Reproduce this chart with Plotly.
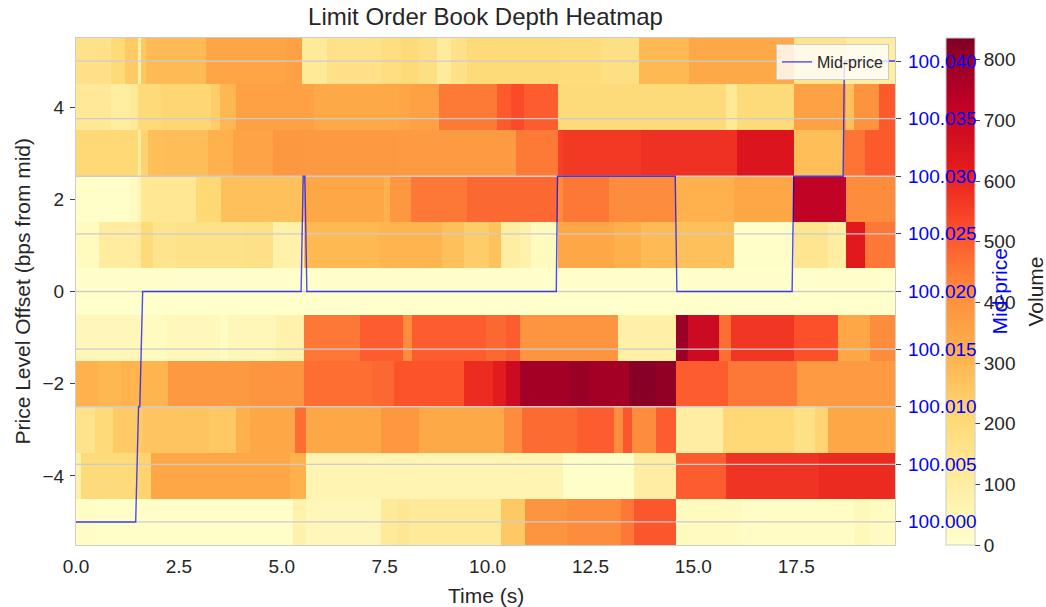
import plotly.graph_objects as go

# ---------------- data ----------------
levels = [-5, -4, -3, -2, -1, 0, 1, 2, 3, 4, 5]
t_start = 0.0
t_end = 19.9

# per price level: (segment start time [s], volume)
row_m5 = [(0.0, 15), (0.49, 8), (5.27, 75), (5.60, 45), (7.40, 120), (7.79, 140), (8.10, 120),
          (10.32, 255), (10.92, 395), (11.94, 420), (13.24, 455), (13.56, 510), (14.57, 30),
          (16.15, 15), (18.9, 40), (19.3, 25)]
row_m4 = [(0.0, 80), (0.12, 200), (1.54, 225), (1.82, 345), (5.19, 315), (5.60, 65),
          (11.83, 10), (13.56, 100), (14.57, 500), (15.79, 575), (18.06, 595)]
row_m3 = [(0.0, 155), (0.45, 205), (0.89, 250), (1.62, 265), (3.24, 255), (3.89, 315),
          (4.22, 345), (5.31, 470), (5.60, 345), (7.42, 390), (8.33, 340), (10.40, 420),
          (10.84, 475), (12.18, 500), (13.08, 420), (13.28, 510), (13.52, 420), (14.09, 500),
          (14.57, 100), (15.71, 210), (17.45, 170), (17.95, 220), (18.27, 345)]
row_m2 = [(0.0, 315), (0.57, 300), (1.10, 315), (1.30, 305), (2.23, 385), (4.22, 395),
          (5.53, 470), (7.19, 480), (7.72, 515), (9.42, 590), (10.14, 625), (10.44, 690),
          (10.78, 775), (12.0, 795), (12.47, 775), (13.44, 820), (14.09, 805), (14.57, 500),
          (15.83, 455), (17.52, 380)]
row_m1 = [(0.0, 45), (1.62, 30), (2.19, 42), (3.49, 20), (3.69, 48), (4.87, 75),
          (5.53, 455), (6.89, 500), (7.95, 420), (8.17, 500), (9.95, 480), (10.44, 500),
          (10.78, 395), (13.16, 85), (14.57, 790), (14.86, 690), (15.63, 470), (15.91, 570),
          (17.45, 520), (18.52, 345), (19.30, 420)]
row_0 = [(0.0, 0)]
row_p1 = [(0.0, 30), (0.57, 110), (1.58, 205), (1.87, 150), (2.43, 160), (4.06, 170),
          (4.79, 80), (5.53, 295), (7.36, 305), (8.90, 275), (9.42, 245), (10.03, 270),
          (10.32, 100), (10.78, 75), (11.05, 30), (11.70, 345), (13.08, 320), (13.72, 290),
          (14.57, 275), (15.98, 10), (17.45, 145), (18.26, 100), (18.70, 630), (19.16, 455)]
row_p2 = [(0.0, 10), (1.30, 30), (1.50, 55), (1.58, 135), (2.92, 210), (3.53, 275),
          (5.53, 345), (7.49, 315), (7.64, 390), (8.13, 455), (9.49, 480), (11.70, 420),
          (11.83, 455), (12.95, 420), (14.57, 315), (15.99, 345), (17.41, 720), (18.71, 420)]
row_p3 = [(0.0, 210), (1.50, 115), (1.58, 225), (1.74, 275), (1.87, 280), (2.15, 285),
          (3.20, 315), (3.81, 355), (4.79, 390), (5.50, 385), (7.79, 380), (10.68, 450),
          (11.70, 550), (11.83, 565), (13.72, 580), (16.07, 650), (17.45, 280), (18.67, 460),
          (19.16, 505)]
row_p4 = [(0.0, 125), (0.85, 105), (1.30, 125), (1.50, 205), (2.07, 215), (3.28, 245),
          (3.49, 300), (3.89, 365), (5.79, 340), (7.84, 350), (8.13, 365), (8.82, 450),
          (10.24, 505), (10.56, 530), (10.88, 500), (11.70, 200), (15.79, 130), (16.07, 200),
          (17.45, 365), (18.71, 270), (18.91, 400), (19.52, 505)]
row_p5 = [(0.0, 165), (0.85, 205), (1.18, 250), (1.50, 80), (1.58, 255), (1.70, 290),
          (3.16, 350), (5.10, 365), (5.49, 120), (6.10, 165), (7.40, 185), (7.90, 205),
          (8.33, 175), (8.78, 115), (9.10, 165), (9.50, 205), (11.70, 195), (12.75, 175),
          (13.68, 295), (14.90, 340), (17.45, 150), (18.70, 100)]

rows = [row_m5, row_m4, row_m3, row_m2, row_m1, row_0, row_p1, row_p2, row_p3, row_p4, row_p5]

mid_t = [0.0, 1.45, 1.52, 1.55, 1.62, 5.47, 5.52, 5.56, 5.61, 11.67, 11.70,
         14.56, 14.60, 17.40, 17.44, 18.64, 18.67, 19.9]
mid_p = [100.000, 100.000, 100.010, 100.010, 100.020, 100.020, 100.030, 100.030, 100.020,
         100.020, 100.030, 100.030, 100.020, 100.020, 100.030, 100.030, 100.040, 100.040]

x_ticks = [0.0, 2.5, 5.0, 7.5, 10.0, 12.5, 15.0, 17.5]
y_ticks = [-4, -2, 0, 2, 4]
mid_ticks = [100.000, 100.005, 100.010, 100.015, 100.020, 100.025, 100.030, 100.035, 100.040]
cb_ticks = [0, 100, 200, 300, 400, 500, 600, 700, 800]
z_max = 836

# ---------------- build heatmap table ----------------
edges = sorted({t for r in rows for t, _ in r} | {t_start, t_end})


def value_at(row, t):
    v = row[0][1]
    for s, val in row:
        if s <= t + 1e-9:
            v = val
    return v


z = [[value_at(r, edges[i]) for i in range(len(edges) - 1)] for r in rows]

ylorrd = [[0.0, '#ffffcc'], [0.125, '#ffeda0'], [0.25, '#fed976'], [0.375, '#feb24c'],
          [0.5, '#fd8d3c'], [0.625, '#fc4e2a'], [0.75, '#e31a1c'], [0.875, '#bd0026'],
          [1.0, '#800026']]

FONT = 'Liberation Sans, Arial, sans-serif'
TXT = '#262626'

L, R, T, B = 76, 151, 38, 62
W, H = 1046, 607
pw = W - L - R
ph = H - T - B

fig = go.Figure()
fig.add_trace(go.Heatmap(
    x=edges, y=levels, z=z, zmin=0, zmax=z_max, colorscale=ylorrd, zsmooth=False,
    colorbar=dict(x=(946 - L) / pw, xanchor='left', thickness=29, thicknessmode='pixels',
                  len=1, lenmode='fraction', y=0.5, yanchor='middle', xpad=0, ypad=0,
                  outlinewidth=1, outlinecolor='#cccccc', ticks='outside', ticklen=5,
                  tickcolor='#444', tickvals=cb_ticks,
                  tickfont=dict(family=FONT, size=19, color=TXT)),
    hoverinfo='skip'))

# grid lines of the mid-price axis (drawn over the image, under the line)
gx, gy = [], []
for v in mid_ticks:
    gx += [t_start, t_end, None]
    gy += [v, v, None]
fig.add_trace(go.Scatter(x=gx, y=gy, yaxis='y2', mode='lines',
                         line=dict(color='#cccccc', width=1.3), showlegend=False,
                         hoverinfo='skip'))

fig.add_trace(go.Scatter(x=mid_t, y=mid_p, yaxis='y2', mode='lines', name='Mid-price',
                         line=dict(color='rgba(0,0,255,0.7)', width=1.4)))

# mid-price tick labels as annotations so they sit on top of the colour bar
mid_labels = [dict(text=f'{v:.3f}', x=1 + (906 - (W - R)) / pw, xref='paper', y=v, yref='y2',
                   xanchor='left', yanchor='middle', showarrow=False,
                   font=dict(family=FONT, size=19, color='blue')) for v in mid_ticks]

fig.update_layout(
    width=W, height=H, margin=dict(l=L, r=R, t=T, b=B, autoexpand=False),
    paper_bgcolor='white', plot_bgcolor='white',
    font=dict(family=FONT, color=TXT),
    title=dict(text='Limit Order Book Depth Heatmap', x=0.5, xref='paper',
               y=1 - 17 / H, yref='container', yanchor='middle', xanchor='center',
               font=dict(family=FONT, size=24, color=TXT)),
    xaxis=dict(range=[t_start, t_end], tickvals=x_ticks, automargin=False,
               ticktext=[f'{v:.1f}' for v in x_ticks], ticks='outside', ticklen=4,
               tickcolor='rgba(0,0,0,0)', showgrid=False, zeroline=False,
               showline=True, mirror=True, linecolor='#cccccc', linewidth=1.3,
               tickfont=dict(family=FONT, size=19, color=TXT)),
    yaxis=dict(range=[-5.5, 5.5], tickvals=y_ticks, ticks='outside', ticklen=5,
               automargin=False, ticklabelstandoff=2,
               tickcolor='#444', showgrid=False, zeroline=False,
               showline=True, mirror=True, linecolor='#cccccc', linewidth=1.3,
               tickfont=dict(family=FONT, size=19, color=TXT)),
    yaxis2=dict(overlaying='y', side='right', range=[99.998, 100.042], automargin=False,
                tickvals=mid_ticks, ticks='outside', ticklen=5, showticklabels=False,
                tickcolor='#444', showgrid=False, zeroline=False, showline=False),
    legend=dict(x=(889 - L) / pw, xanchor='right', y=(H - B - 44) / ph,
                yanchor='top', bgcolor='rgba(255,255,255,0.8)', bordercolor='#cccccc',
                borderwidth=1, font=dict(family=FONT, size=16, color=TXT)),
    annotations=mid_labels + [
        dict(text='Time (s)', x=0.5, y=-50 / ph, xref='paper', yref='paper',
             showarrow=False, xanchor='center', yanchor='middle',
             font=dict(family=FONT, size=21, color=TXT)),
        dict(text='Price Level Offset (bps from mid)', x=(22 - L) / pw, y=0.5,
             xref='paper', yref='paper', textangle=-90, showarrow=False,
             xanchor='center', yanchor='middle',
             font=dict(family=FONT, size=21, color=TXT)),
        dict(text='Mid-price', x=(999 - L) / pw, y=0.5, xref='paper', yref='paper',
             textangle=-90, showarrow=False, xanchor='center', yanchor='middle',
             font=dict(family=FONT, size=21, color='blue')),
        dict(text='Volume', x=(1035 - L) / pw, y=0.5, xref='paper', yref='paper',
             textangle=-90, showarrow=False, xanchor='center', yanchor='middle',
             font=dict(family=FONT, size=21, color=TXT)),
    ],
)

fig.write_html('out.html')
